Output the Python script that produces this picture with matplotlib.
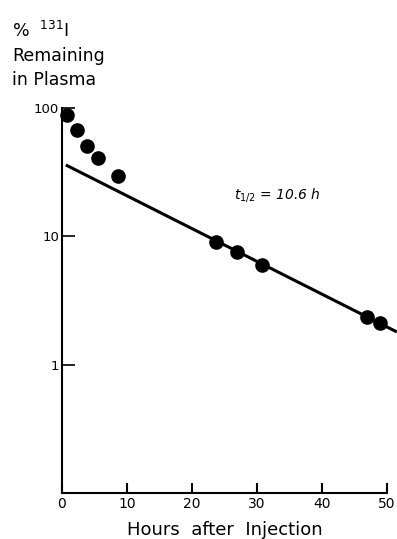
import matplotlib
matplotlib.use('Agg')
import matplotlib.pyplot as plt
import numpy as np

# plasma 131I data
hours = [0.8, 2.3, 3.8, 5.6, 8.6, 23.7, 26.9, 30.7, 46.9, 48.9]
pct_remaining = [88, 67, 51, 40.5, 29.4, 9.0, 7.5, 6.0, 2.35, 2.1]

# fitted elimination line (end points)
fit_hours = [0.6, 51.5]
fit_pct = [36, 1.8]

x_ticks = [0, 10, 20, 30, 40, 50]
y_ticks = [1, 10, 100]
y_ticklabels = ['1', '10', '100']

plt.rcParams['font.family'] = ['DejaVu Sans']

fig = plt.figure(figsize=(3.97, 5.39), dpi=100)
ax = fig.add_axes([0.156, 0.0853, 0.819, 0.7143])

ax.plot(fit_hours, fit_pct, color='black', lw=2.2, clip_on=False,
        solid_capstyle='butt')
ax.plot(hours, pct_remaining, 'o', color='black', ms=9.5, clip_on=False)

ax.set_yscale('log')
ax.set_xlim(0, 50)
ax.set_ylim(0.1, 100)
ax.set_xticks(x_ticks)
ax.set_xticklabels([str(t) for t in x_ticks], fontsize=10)
ax.set_yticks(y_ticks)
ax.set_yticklabels(y_ticklabels, fontsize=9.5)
ax.yaxis.set_minor_locator(matplotlib.ticker.NullLocator())

ax.spines['top'].set_visible(False)
ax.spines['right'].set_visible(False)
ax.spines['left'].set_linewidth(1.5)
ax.spines['bottom'].set_linewidth(1.5)
ax.tick_params(axis='x', direction='in', length=7, width=1.5, pad=3)
ax.tick_params(axis='y', direction='in', length=9, width=1.2, pad=2)

ax.set_xlabel('Hours  after  Injection', fontsize=13, labelpad=7)

ax.text(0.53, 0.765, r'$t_{1/2}$ = 10.6 h', transform=ax.transAxes,
        fontsize=10, style='italic')

fig.text(0.03, 0.962, '%  $^{131}$I\nRemaining\nin Plasma', fontsize=12.5,
         va='top', ha='left', linespacing=1.45)

fig.savefig('out.png', dpi=100)
